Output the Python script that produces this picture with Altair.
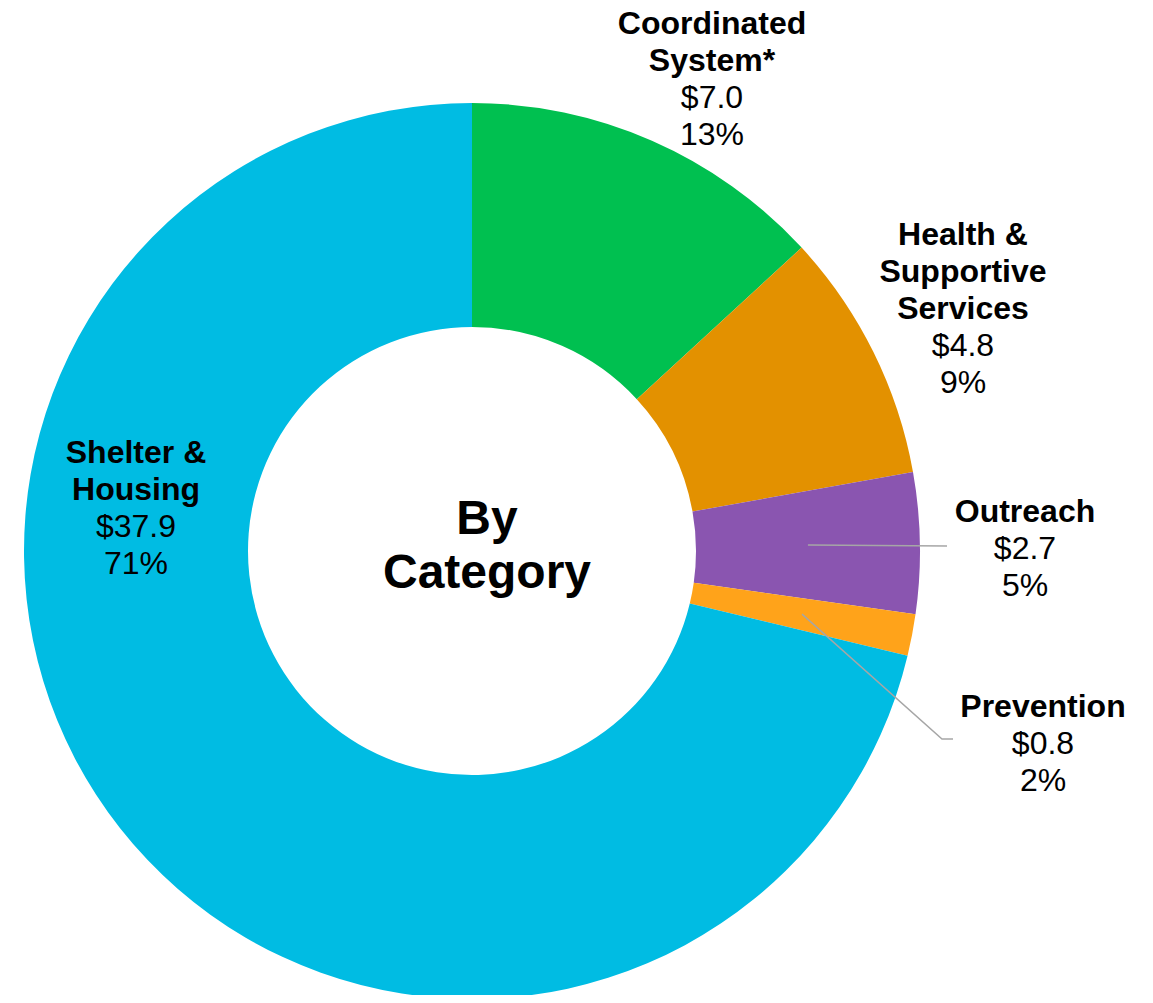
import math
import altair as alt
import pandas as pd

# ---- data ----
categories = ["Coordinated System*", "Health & Supportive Services", "Outreach", "Prevention", "Shelter & Housing"]
name_lines = [["Coordinated", "System*"], ["Health &", "Supportive", "Services"], ["Outreach"], ["Prevention"], ["Shelter &", "Housing"]]
values = [7.0, 4.8, 2.7, 0.8, 37.9]  # $ millions
colors = ["#00C050", "#E39100", "#8A55B0", "#FFA31A", "#00BCE3"]
center_title = ["By", "Category"]

# ---- layout (chart pixel space) ----
W, H = 1137, 987
CX, CY = 464, 543
R_IN, R_OUT = 224, 448
FS, FS_BIG = 32, 48
LH, LH_BIG = 36.8, 54
# label block anchor: offset from donut center to centre of first line
label_offsets = {
    "Coordinated System*": (240, -528),
    "Health & Supportive Services": (491, -317),
    "Outreach": (553, -40),
    "Prevention": (571, 155),
    "Shelter & Housing": (-336, -99),
}
# leader line end points (offset from donut center)
leader_ends = {
    "Outreach": [(475, -5)],
    "Prevention": [(470, 188), (481, 188)],
}

total = sum(values)
arc_df = pd.DataFrame({"category": categories, "value": values, "idx": range(len(values))})

# text rows
rows = []
for cat, names, v in zip(categories, name_lines, values):
    ox, oy = label_offsets[cat]
    lines = [(n, True) for n in names] + [(f"${v:.1f}", False), (f"{round(100 * v / total)}%", False)]
    for i, (t, bold) in enumerate(lines):
        rows.append({"text": t, "bold": bold,
                     "x": CX + ox, "y": CY + oy + i * LH + 0.358 * FS})
text_df = pd.DataFrame(rows)

title_rows = [{"text": t, "x": CX + 15, "y": CY - 34 + i * LH_BIG + 0.358 * FS_BIG}
              for i, t in enumerate(center_title)]
title_df = pd.DataFrame(title_rows)

# leader lines: start in middle of ring at slice mid-angle
lrows = []
cum = 0.0
for cat, v in zip(categories, values):
    mid = (cum + v / 2) / total * 2 * math.pi
    cum += v
    if cat in leader_ends:
        rm = (R_IN + R_OUT) / 2
        pts = [(CX + rm * math.sin(mid), CY - rm * math.cos(mid))]
        pts += [(CX + dx, CY + dy) for dx, dy in leader_ends[cat]]
        for j, (px, py) in enumerate(pts):
            lrows.append({"category": cat, "seq": j, "x": px, "y": py})
leader_df = pd.DataFrame(lrows)

arcs = alt.Chart(arc_df).mark_arc(innerRadius=R_IN, outerRadius=R_OUT).encode(
    theta=alt.Theta("value:Q", stack=True),
    color=alt.Color("category:N", scale=alt.Scale(domain=categories, range=colors), legend=None),
    order=alt.Order("idx:Q"),
    x=alt.value(CX), y=alt.value(CY),
)

leaders = alt.Chart(leader_df).mark_line(color="#A6A6A6", strokeWidth=1.5).encode(
    x=alt.X("x:Q", scale=None), y=alt.Y("y:Q", scale=None),
    detail="category:N", order="seq:Q",
)

bold_text = alt.Chart(text_df).transform_filter("datum.bold").mark_text(
    font="Liberation Sans", fontSize=FS, fontWeight="bold", color="#000000",
    align="center", baseline="alphabetic",
).encode(x=alt.X("x:Q", scale=None), y=alt.Y("y:Q", scale=None), text="text:N")

reg_text = alt.Chart(text_df).transform_filter("!datum.bold").mark_text(
    font="Liberation Sans", fontSize=FS, color="#000000",
    align="center", baseline="alphabetic",
).encode(x=alt.X("x:Q", scale=None), y=alt.Y("y:Q", scale=None), text="text:N")

title_text = alt.Chart(title_df).mark_text(
    font="Liberation Sans", fontSize=FS_BIG, fontWeight="bold", color="#000000",
    align="center", baseline="alphabetic",
).encode(x=alt.X("x:Q", scale=None), y=alt.Y("y:Q", scale=None), text="text:N")

chart = alt.layer(arcs, leaders, bold_text, reg_text, title_text).properties(
    width=W, height=H, padding=0, autosize=alt.AutoSizeParams(type="none"),
    background="white",
).configure_view(stroke=None)

chart.save("out.html", embed_options={"renderer": "svg", "actions": False})
